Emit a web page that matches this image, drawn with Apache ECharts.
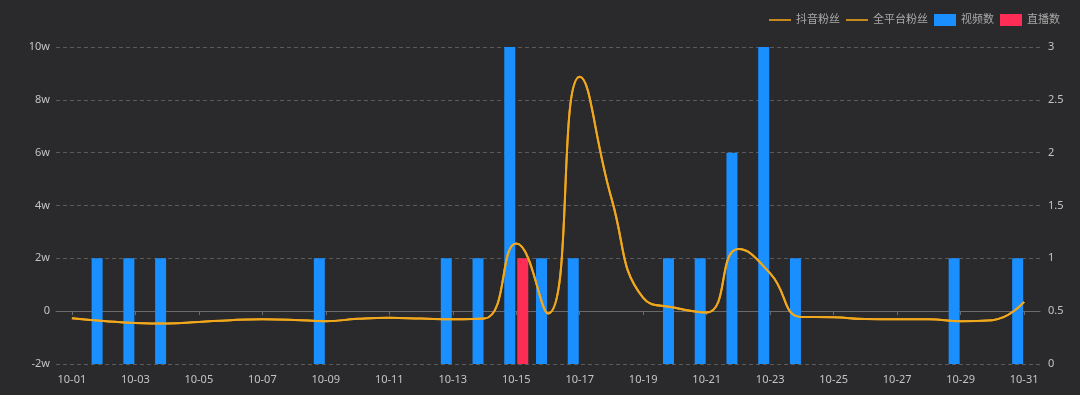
<!DOCTYPE html>
<html>
<head>
<meta charset="utf-8">
<script src="https://cdn.jsdelivr.net/npm/echarts@6/dist/echarts.min.js"></script>
<style>
html,body{margin:0;padding:0;background:#2a2a2c;}
#c{width:1080px;height:395px;}
</style>
</head>
<body>
<div id="c"></div>
<script>
const categories = ['10-01','10-02','10-03','10-04','10-05','10-06','10-07','10-08','10-09','10-10','10-11','10-12','10-13','10-14','10-15','10-16','10-17','10-18','10-19','10-20','10-21','10-22','10-23','10-24','10-25','10-26','10-27','10-28','10-29','10-30','10-31'];
const douyinFans = [-2650,-3700,-4500,-4700,-4100,-3400,-3100,-3300,-3800,-2900,-2500,-2800,-3100,-2800,25600,-900,88700,42700,5000,1300,-500,23500,14300,-2200,-2300,-3000,-3100,-3100,-3800,-3400,3500];
const allFans = douyinFans.slice();
const videoCount = [0,1,1,1,0,0,0,0,1,0,0,0,1,1,3,1,1,0,0,1,1,2,3,1,0,0,0,0,1,0,1];
const liveCount = [0,0,0,0,0,0,0,0,0,0,0,0,0,0,1,0,0,0,0,0,0,0,0,0,0,0,0,0,0,0,0];

const FONT = 'Noto Sans, Noto Sans CJK SC, sans-serif';
const chart = echarts.init(document.getElementById('c'));
chart.setOption({
  backgroundColor: '#2a2a2c',
  animation: false,
  textStyle: {fontFamily: FONT},
  legend: {
    right: 15, top: 9,
    itemWidth: 22, itemHeight: 12, itemGap: 6,
    textStyle: {color: '#a8a8a8', fontSize: 11, fontFamily: FONT},
    data: [
      {name: '抖音粉丝', icon: 'path://M0,5 L22,5 L22,7 L0,7 Z'},
      {name: '全平台粉丝', icon: 'path://M0,5 L22,5 L22,7 L0,7 Z'},
      {name: '视频数', icon: 'rect'},
      {name: '直播数', icon: 'rect'}
    ]
  },
  grid: {left: 56, right: 40, top: 47, bottom: 31},
  xAxis: [
    {
      type: 'category', data: categories, boundaryGap: true,
      axisLine: {show: true, onZero: true, lineStyle: {color: '#6a6a6a'}},
      axisTick: {show: true, alignWithLabel: true, interval: 1, length: 4, lineStyle: {color: '#6a6a6a'}},
      axisLabel: {show: false, interval: 1}
    },
    {
      type: 'category', data: categories, boundaryGap: true, position: 'bottom',
      axisLine: {show: false, onZero: false},
      axisTick: {show: false},
      axisLabel: {show: true, interval: 1, color: '#c4c4c4', fontSize: 11, margin: 10, fontFamily: FONT}
    }
  ],
  yAxis: [
    {
      type: 'value', min: -20000, max: 100000, interval: 20000,
      axisLine: {show: false}, axisTick: {show: false},
      axisLabel: {color: '#c4c4c4', fontSize: 11, margin: 6, fontFamily: FONT,
        formatter: v => v === 0 ? '0' : (v / 10000) + 'w'},
      splitLine: {show: true, lineStyle: {color: '#5a5a5a', type: [4, 3]}}
    },
    {
      type: 'value', min: 0, max: 3, interval: 0.5, position: 'right',
      axisLine: {show: false}, axisTick: {show: false},
      axisLabel: {color: '#c4c4c4', fontSize: 11, margin: 8, fontFamily: FONT},
      splitLine: {show: false}
    }
  ],
  series: [
    {name: '视频数', type: 'bar', xAxisIndex: 0, yAxisIndex: 1, data: videoCount,
      barWidth: 11, barGap: '18%', itemStyle: {color: '#1a8fff'}, z: 2},
    {name: '直播数', type: 'bar', xAxisIndex: 0, yAxisIndex: 1, data: liveCount,
      barWidth: 11, barGap: '18%', itemStyle: {color: '#ff2d55'}, z: 2},
    {name: '抖音粉丝', type: 'line', xAxisIndex: 0, yAxisIndex: 0, data: douyinFans,
      smooth: true, showSymbol: false, symbol: 'none',
      lineStyle: {width: 2, color: '#e59f1c'}, itemStyle: {color: '#c5891c'}, z: 3},
    {name: '全平台粉丝', type: 'line', xAxisIndex: 0, yAxisIndex: 0, data: allFans,
      smooth: true, showSymbol: false, symbol: 'none',
      lineStyle: {width: 2, color: '#f2a81d'}, itemStyle: {color: '#c5891c'}, z: 4}
  ]
});
</script>
</body>
</html>
